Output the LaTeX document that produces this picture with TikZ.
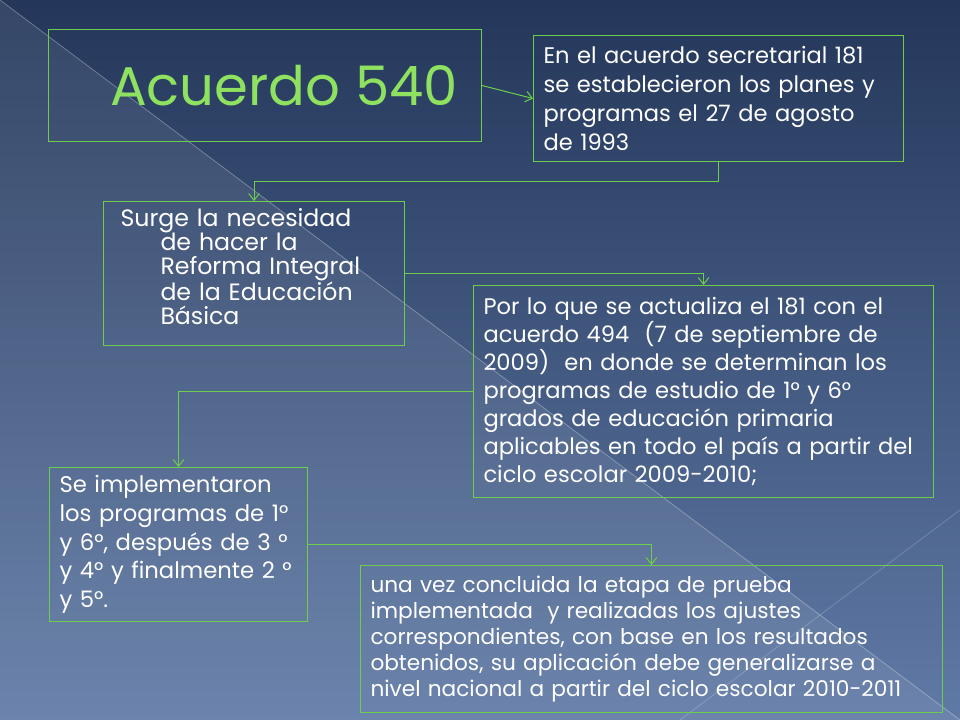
\documentclass[tikz,border=0pt]{standalone}
\usepackage{fontspec}
\setmainfont{Poppins}
\usetikzlibrary{arrows.meta}

\definecolor{slidetop}{RGB}{36,55,90}
\definecolor{slidebottom}{RGB}{96,122,166}
\definecolor{linegreen}{RGB}{108,206,74}
\definecolor{titlegreen}{RGB}{142,226,96}

\tikzset{
  box/.style={draw=linegreen, line width=0.75bp, anchor=north west, align=left,
    text=white, inner xsep=7.5bp, inner ysep=0bp,
    font=\fontsize{17.4}{21.6}\selectfont},
  link/.style={draw=linegreen, line width=0.75bp,
    -{Straight Barb[length=5bp, width=8bp]}},
}

\begin{document}
\begin{tikzpicture}[x=0.75bp, y=-0.75bp]
  \useasboundingbox (0,0) rectangle (960,720);
  \begin{scope}
    \fill [top color=slidetop, bottom color=slidebottom] (0,0) rectangle (960,720);
    \fill [white, opacity=0.08] (0,0) -- (960,720) -- (0,720) -- cycle;
    \draw [white, opacity=0.3, line width=0.6bp] (0,0) -- (960,720);
    \draw [white, opacity=0.2, line width=0.6bp] (680,720) -- (960,510);

    \node [box, minimum width=324.75bp, minimum height=84bp, align=center,
      text=titlegreen, font=\fontsize{41}{50}\selectfont] (titulo) at (48,29)
      {\hspace*{28.5bp}Acuerdo 540};

    \node [box, minimum width=277.5bp, minimum height=94.5bp, text width=262.5bp,
      font=\fontsize{17}{21.6}\selectfont] (acuerdo181) at (533,35)
      {En el acuerdo secretarial 181\\
       se establecieron los planes y\\
       programas el 27 de agosto\\
       de 1993};

    \node [box, minimum width=225.75bp, minimum height=108bp, text width=200.25bp,
      inner xsep=12.75bp, font=\fontsize{17.8}{18}\selectfont] (reforma) at (103,201)
      {Surge la necesidad\\
       \hspace*{30bp}de hacer la\\
       \hspace*{30bp}Reforma Integral\\
       \hspace*{30bp}de la Educación\\
       \hspace*{30bp}Básica\\[-7.5pt]
       \mbox{}};

    \node [box, minimum width=345bp, minimum height=159bp, text width=330bp,
      font=\fontsize{17}{21.2}\selectfont] (acuerdo494) at (473,285)
      {Por lo que se actualiza el 181 con el\\
       acuerdo 494~~(7 de septiembre de\\
       2009)~~en donde se determinan los\\
       programas de estudio de 1° y 6°\\
       grados de educación primaria\\
       aplicables~en~todo~el~país~a~partir~del\\
       ciclo escolar 2009-2010;};

    \node [box, minimum width=193.5bp, minimum height=115.5bp, text width=178.5bp,
      font=\fontsize{17.1}{21.6}\selectfont] (programas) at (49,467)
      {Se implementaron\\
       los programas de 1°\\
       y 6°, después de 3 °\\
       y 4° y finalmente 2 °\\
       y 5°.};

    \node [box, minimum width=436.5bp, minimum height=110.25bp, text width=421.5bp,
      font=\fontsize{16.3}{19.5}\selectfont] (generalizar) at (360,565)
      {una vez concluida la etapa de prueba\\
       implementada~ y realizadas los ajustes\\
       correspondientes, con base en los resultados\\
       obtenidos, su aplicación debe generalizarse a\\
       nivel nacional a partir del ciclo escolar 2010-2011};

    \draw [link] (titulo.east) -- (acuerdo181.west);
    \draw [link] (acuerdo181.south) -- ++(0,19.5) -| (reforma.north);
    \draw [link] (reforma.east) -| (acuerdo494.north);
    \draw [link] (acuerdo494.west) -| (programas.north);
    \draw [link] (programas.east) -| (generalizar.north);
  \end{scope}
\end{tikzpicture}
\end{document}
